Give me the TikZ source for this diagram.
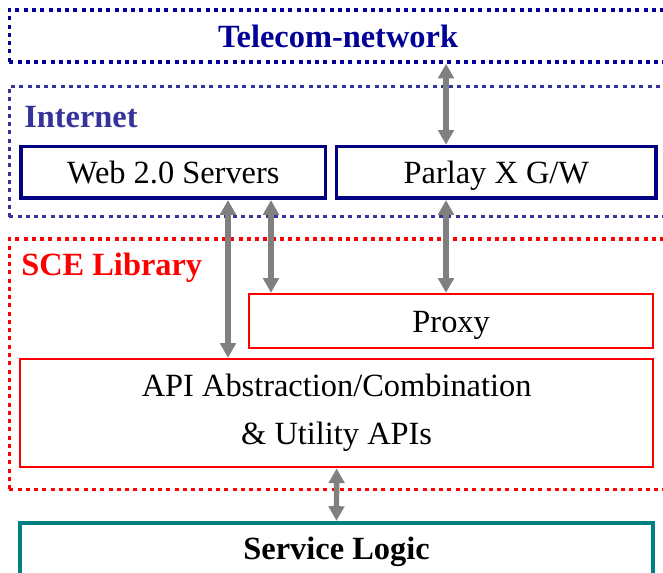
\documentclass[tikz,border=0pt]{standalone}
\usepackage{fontspec}
\setmainfont{Liberation Serif}
\usepackage{tikz}
\usetikzlibrary{calc}
\usetikzlibrary{arrows.meta}

\definecolor{telblue}{RGB}{0,0,150}
\definecolor{netblue}{RGB}{51,51,153}
\definecolor{srvblue}{RGB}{0,0,128}
\definecolor{scered}{RGB}{255,0,0}
\definecolor{logicteal}{RGB}{0,128,128}
\definecolor{arrowgray}{RGB}{128,128,128}

\tikzset{
	frame/.style={draw=#1, line width=2.5pt, dash pattern=on 3pt off 3.2pt, inner sep=0pt, minimum width=533pt},
	box/.style={draw=#1, inner sep=0pt, font=\fontsize{24.3}{35.8}\selectfont},
	oneline/.style={text height=16.5pt, text depth=0pt},
	title/.style={inner sep=0pt, font=\bfseries\fontsize{24.3}{29}\selectfont},
	link/.style={{Triangle[length=11pt,width=11.5pt]}-{Triangle[length=11pt,width=11.5pt]}, line width=4pt, draw=arrowgray}
}

\begin{document}
\begin{tikzpicture}[x=0.75pt,y=-0.75pt]
		\useasboundingbox (0,0) rectangle (663,573);
		\clip (0,0) rectangle (663,573);

		\node[frame=telblue, minimum height=39pt] (telecom) at (364.65,36) {};
		\node[frame=netblue, minimum height=97.65pt] (inet) at (364.65,151.6) {};
		\node[frame=scered, minimum height=187.7pt] (sce) at (364.65,364.15) {};

		\node[title, text=telblue, anchor=base] (teltitle) at (338,48) {Telecom-network};
		\node[title, text=netblue, anchor=base west] (inettitle) at (24,128) {Internet};
		\node[title, text=scered, anchor=base west] (scetitle) at (21,276) {SCE Library};

		\node[box=srvblue, oneline, line width=2.7pt, minimum width=228.45pt, minimum height=38.85pt] (web) at (173.3,172.4) {Web 2.0 Servers};
		\node[box=srvblue, oneline, line width=2.7pt, minimum width=239.55pt, minimum height=38.85pt] (parlay) at (496.3,172.4) {Parlay X G/W};
		\node[box=scered, oneline, line width=1.7pt, minimum width=302.8pt, minimum height=40.5pt] (proxy) at (451.15,321) {Proxy};
		\node[box=scered, align=center, text height=52.3pt, text depth=5.3pt, line width=1.7pt, minimum width=475pt, minimum height=81.2pt] (api) at (336.65,413.15) {API Abstraction/Combination\\\& Utility APIs};
		\node[box=logicteal, oneline, line width=2.7pt, minimum width=474.75pt, minimum height=39pt, font=\bfseries\fontsize{24.3}{29}\selectfont] (logic) at (336.5,548.7) {Service Logic};

		\coordinate (colA) at (228,0);
		\coordinate (colB) at (271,0);
		\coordinate (colC) at (446,0);

		\draw[link] (colC |- telecom.south) -- (colC |- parlay.north);
		\draw[link] (colC |- parlay.south) -- (colC |- proxy.north);
		\draw[link] (colB |- web.south) -- (colB |- proxy.north);
		\draw[link] (colA |- web.south) -- (colA |- api.north);
		\draw[link] (api.south) -- (logic.north);
	\end{tikzpicture}
\end{document}
